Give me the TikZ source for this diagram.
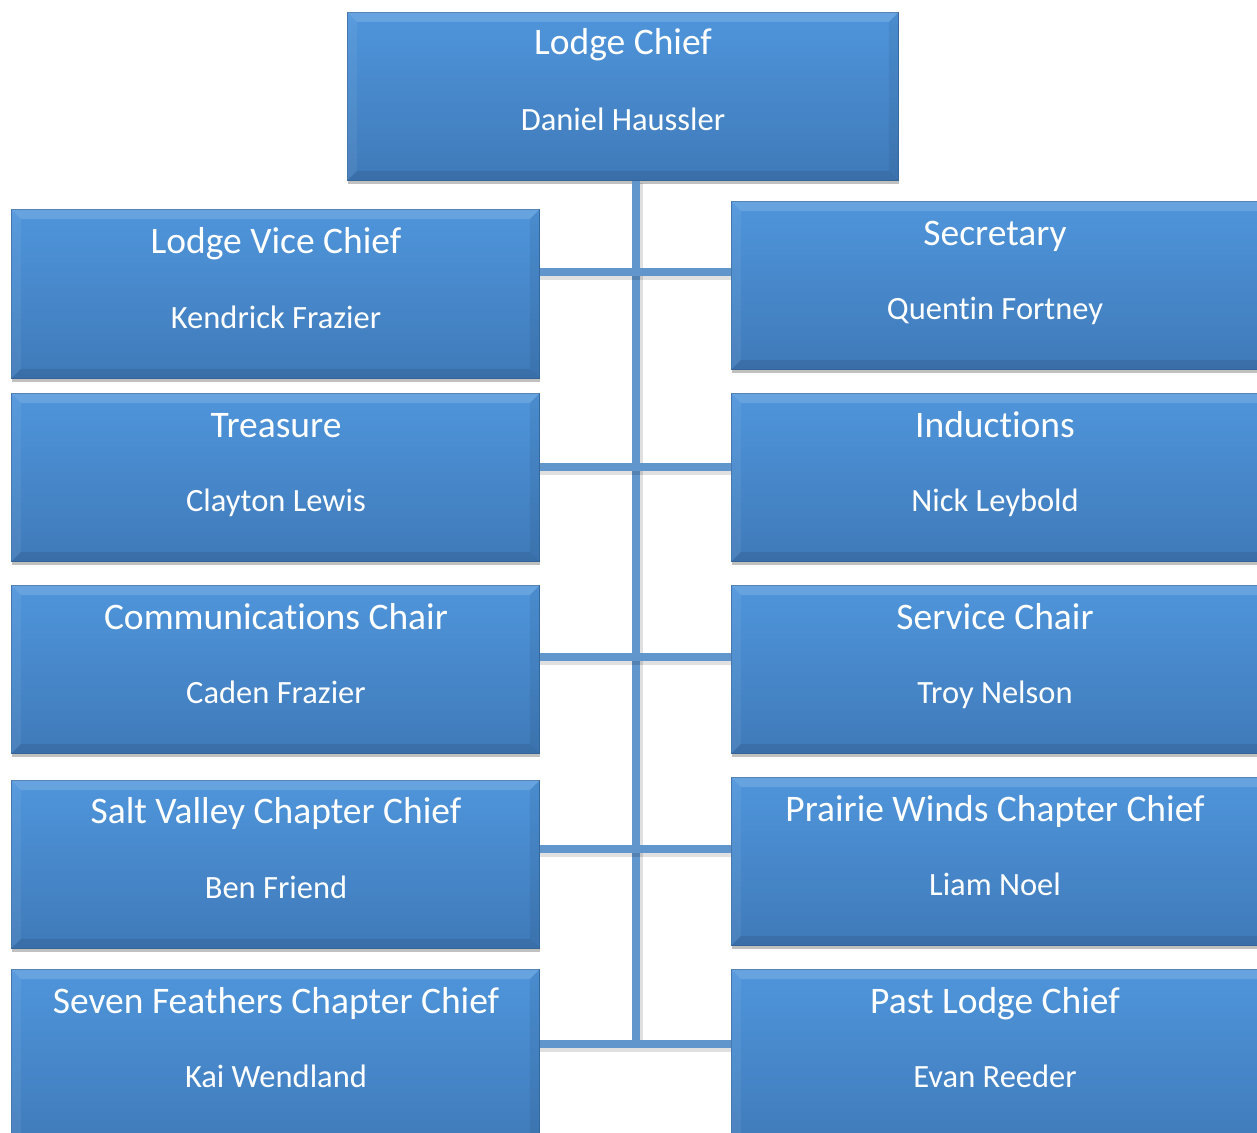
\documentclass[tikz,border=0pt]{standalone}
\usepackage{fontspec}
\setmainfont{Carlito}[Ligatures={NoCommon,NoRare,NoContextual}]
\usetikzlibrary{shadows}
\definecolor{boxtop}{HTML}{4F95DB}
\definecolor{boxbot}{HTML}{3F7AB9}
\definecolor{boxedge}{HTML}{3A6FA8}
\definecolor{conn}{HTML}{6096CB}
\tikzset{
  orgbox/.style={draw=boxedge, line width=0.8pt, top color=boxtop, bottom color=boxbot,
    inner sep=0pt, anchor=north west,
    drop shadow={shadow xshift=1pt, shadow yshift=-4pt, opacity=0.35, fill=black!70}},
  ttl/.style={text=white, font=\fontsize{37.5}{40}\selectfont, anchor=base, inner sep=0pt},
  nm/.style={text=white, font=\fontsize{32.5}{35}\selectfont, anchor=base, inner sep=0pt},
  connline/.style={draw=conn, line width=8pt},
  connshadow/.style={draw=black, opacity=0.12, line width=9pt},
}
\newcommand{\bevel}[1]{%
  \fill[white, opacity=0.14] (#1.north west) -- (#1.north east) -- ([xshift=-10pt,yshift=-10pt]#1.north east) -- ([xshift=10pt,yshift=-10pt]#1.north west) -- cycle;
  \fill[white, opacity=0.06] (#1.north west) -- ([xshift=10pt,yshift=-10pt]#1.north west) -- ([xshift=10pt,yshift=10pt]#1.south west) -- (#1.south west) -- cycle;
  \fill[black, opacity=0.09] (#1.south west) -- ([xshift=10pt,yshift=10pt]#1.south west) -- ([xshift=-10pt,yshift=10pt]#1.south east) -- (#1.south east) -- cycle;
  \fill[black, opacity=0.06] (#1.north east) -- ([xshift=-10pt,yshift=-10pt]#1.north east) -- ([xshift=-10pt,yshift=10pt]#1.south east) -- (#1.south east) -- cycle;
}
\begin{document}
\begin{tikzpicture}[x=1pt,y=-1pt]
\useasboundingbox (0,0) rectangle (1257,1132);
\clip (0,0) rectangle (1257,1132);
\fill[white] (0,0) rectangle (1257,1132);
% connector coordinates
\coordinate (vb) at (636,1046);
\coordinate (h1) at (636,272);
\coordinate (h2) at (636,467);
\coordinate (h3) at (636,657);
\coordinate (h4) at (636,849);
\coordinate (h5) at (636,1044);
% boxes
\node[orgbox, minimum width=551pt, minimum height=168pt] (top) at (347,12) {};
\node[orgbox, minimum width=528pt, minimum height=169pt] (L1) at (11,209) {};
\node[orgbox, minimum width=540pt, minimum height=168pt] (R1) at (731,201) {};
\node[orgbox, minimum width=528pt, minimum height=168pt] (L2) at (11,393) {};
\node[orgbox, minimum width=540pt, minimum height=168pt] (R2) at (731,393) {};
\node[orgbox, minimum width=528pt, minimum height=168pt] (L3) at (11,585) {};
\node[orgbox, minimum width=540pt, minimum height=168pt] (R3) at (731,585) {};
\node[orgbox, minimum width=528pt, minimum height=168pt] (L4) at (11,780) {};
\node[orgbox, minimum width=540pt, minimum height=168pt] (R4) at (731,777) {};
\node[orgbox, minimum width=528pt, minimum height=180pt] (L5) at (11,969) {};
\node[orgbox, minimum width=540pt, minimum height=180pt] (R5) at (731,969) {};
\foreach \b in {top,L1,R1,L2,R2,L3,R3,L4,R4,L5,R5}{\bevel{\b}}
% connectors
\draw[connshadow] ([xshift=2pt,yshift=-2pt]top.south -| h1) -- ([xshift=2pt]vb);
\draw[connline] (top.south -| h1) -- (vb);
\foreach \r/\h in {1/h1,2/h2,3/h3,4/h4,5/h5}{
  \draw[connshadow] ([yshift=-3pt]L\r.east |- \h) -- ([yshift=-3pt]R\r.west |- \h);
  \draw[connline] (L\r.east |- \h) -- (R\r.west |- \h);
}
% texts
\node[ttl] (topt) at (623,55) {Lodge Chief};
\node[nm] (topn) at (623,130.5) {Daniel Haussler};
\node[ttl] (L1t) at (276,253) {Lodge Vice Chief};
\node[nm] (L1n) at (276,328.5) {Kendrick Frazier};
\node[ttl] (R1t) at (995,245) {Secretary};
\node[nm] (R1n) at (995,319.5) {Quentin Fortney};
\node[ttl] (L2t) at (276,437) {Treasure};
\node[nm] (L2n) at (276,511.5) {Clayton Lewis};
\node[ttl] (R2t) at (995,437) {Inductions};
\node[nm] (R2n) at (995,511.5) {Nick Leybold};
\node[ttl] (L3t) at (276,629) {Communications Chair};
\node[nm] (L3n) at (276,703.5) {Caden Frazier};
\node[ttl] (R3t) at (995,629) {Service Chair};
\node[nm] (R3n) at (995,703.5) {Troy Nelson};
\node[ttl] (L4t) at (276,823) {Salt Valley Chapter Chief};
\node[nm] (L4n) at (276,898.5) {Ben Friend};
\node[ttl] (R4t) at (995,821) {Prairie Winds Chapter Chief};
\node[nm] (R4n) at (995,895.5) {Liam Noel};
\node[ttl] (L5t) at (276,1013) {Seven Feathers Chapter Chief};
\node[nm] (L5n) at (276,1087.5) {Kai Wendland};
\node[ttl] (R5t) at (995,1013) {Past Lodge Chief};
\node[nm] (R5n) at (995,1087.5) {Evan Reeder};
\end{tikzpicture}
\end{document}
